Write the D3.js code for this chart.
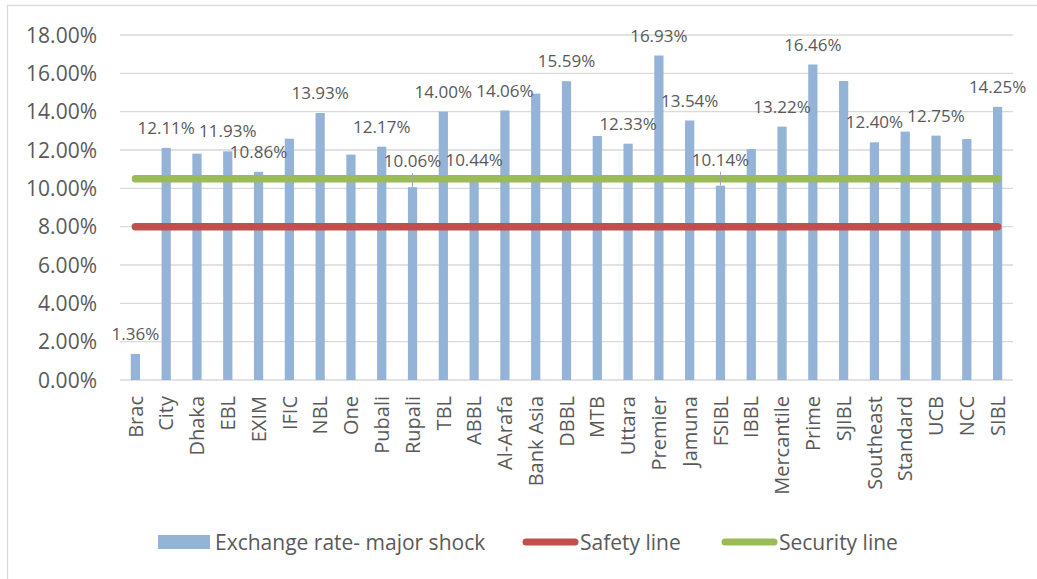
<!DOCTYPE html>
<html>
<head>
<meta charset="utf-8">
<script src="https://cdnjs.cloudflare.com/ajax/libs/d3/7.8.5/d3.min.js"></script>
<style>
    body { margin: 0; background: #fff; }
    text { font-family: "Open Sans", sans-serif; fill: #595959; }
</style>
</head>
<body>
<div class="chart"></div>
<script>
// banks along the x axis
var banks = ["Brac", "City", "Dhaka", "EBL", "EXIM", "IFIC", "NBL", "One", "Pubali", "Rupali",
    "TBL", "ABBL", "Al-Arafa", "Bank Asia", "DBBL", "MTB", "Uttara", "Premier", "Jamuna", "FSIBL",
    "IBBL", "Mercantile", "Prime", "SJIBL", "Southeast", "Standard", "UCB", "NCC", "SIBL"];

// exchange rate - major shock (percent)
var shock = [1.36, 12.11, 11.81, 11.93, 10.86, 12.59, 13.93, 11.76, 12.17, 10.06,
    14.00, 10.44, 14.06, 14.94, 15.59, 12.73, 12.33, 16.93, 13.54, 10.14,
    12.05, 13.22, 16.46, 15.60, 12.40, 12.96, 12.75, 12.57, 14.25];

// banks that carry a data label
var labelled = ["Brac", "City", "EBL", "EXIM", "NBL", "Pubali", "Rupali", "TBL", "ABBL", "Al-Arafa",
    "DBBL", "Uttara", "Premier", "Jamuna", "FSIBL", "Mercantile", "Prime", "Southeast", "UCB", "SIBL"];
// labels pushed up with a leader line
var leader = ["Rupali", "FSIBL"];

var safetyLine = 8;
var securityLine = 10.5;
var yTicks = [0, 2, 4, 6, 8, 10, 12, 14, 16, 18];

var series = [
    {name: "Exchange rate- major shock", type: "bar", color: "#95B3D7"},
    {name: "Safety line", type: "line", color: "#C0504D"},
    {name: "Security line", type: "line", color: "#9BBB59"}
];

var W = 1037, H = 579;
var margin = {top: 35, right: 24, bottom: 199, left: 120};
var width = W - margin.left - margin.right;
var height = H - margin.top - margin.bottom;

var svg = d3.select(".chart").append("svg")
    .attr("width", W)
    .attr("height", H);

// chart frame
svg.append("rect")
    .attr("x", 7.5).attr("y", 5.5)
    .attr("width", W + 20).attr("height", H + 20)
    .attr("fill", "none")
    .attr("stroke", "#D9D9D9")
    .attr("stroke-width", 1.3);

var g = svg.append("g").attr("transform", `translate(${margin.left},${margin.top})`);

var x = d3.scaleBand().domain(banks).range([0, width]).paddingInner(0.7).paddingOuter(0.35);
var y = d3.scaleLinear().domain([0, 18]).range([height, 0]);
var cx = d => x(d) + x.bandwidth() / 2;

// gridlines
g.append("g")
    .selectAll("line")
    .data(yTicks)
    .enter()
    .append("line")
    .attr("x1", 0).attr("x2", width)
    .attr("y1", d => y(d)).attr("y2", d => y(d))
    .attr("stroke", "#D9D9D9")
    .attr("stroke-width", 1.3);

// y tick labels
g.append("g")
    .selectAll("text")
    .data(yTicks)
    .enter()
    .append("text")
    .attr("x", -23)
    .attr("y", d => y(d))
    .attr("dy", "0.36em")
    .attr("text-anchor", "end")
    .style("font-size", "21px")
    .text(d => d3.format(".2f")(d) + "%");

// x labels, rotated
g.append("g")
    .selectAll("text")
    .data(banks)
    .enter()
    .append("text")
    .attr("transform", d => `translate(${cx(d)},${height + 16}) rotate(-90)`)
    .attr("dy", "0.36em")
    .attr("text-anchor", "end")
    .style("font-size", "20px")
    .text(d => d);

var data = banks.map((b, i) => ({name: b, value: shock[i]}));

// bars
g.append("g")
    .selectAll("rect")
    .data(data)
    .enter()
    .append("rect")
    .attr("x", d => x(d.name))
    .attr("y", d => y(d.value))
    .attr("width", x.bandwidth())
    .attr("height", d => height - y(d.value))
    .attr("fill", series[0].color);

// safety and security lines
[safetyLine, securityLine].forEach(function(v, i) {
    g.append("line")
        .attr("x1", cx(banks[0]))
        .attr("x2", cx(banks[banks.length - 1]))
        .attr("y1", y(v)).attr("y2", y(v))
        .attr("stroke", series[i + 1].color)
        .attr("stroke-width", 7.5)
        .attr("stroke-linecap", "round");
});

// data labels
var labels = data.filter(d => labelled.includes(d.name));
var labelY = d => y(d.value) - (leader.includes(d.name) ? 26 : 20);

g.append("g")
    .selectAll("line")
    .data(labels.filter(d => leader.includes(d.name)))
    .enter()
    .append("line")
    .attr("x1", d => cx(d.name)).attr("x2", d => cx(d.name))
    .attr("y1", d => labelY(d) + 12).attr("y2", d => y(d.value))
    .attr("stroke", "#A6A6A6")
    .attr("stroke-width", 1);

g.append("g")
    .selectAll("text")
    .data(labels)
    .enter()
    .append("text")
    .attr("x", d => cx(d.name))
    .attr("y", labelY)
    .attr("dy", "0.36em")
    .attr("text-anchor", "middle")
    .style("font-size", "17px")
    .text(d => d3.format(".2f")(d.value) + "%");

// legend
var legendPos = [158, 523, 722];
var legend = svg.append("g").attr("transform", "translate(0,542)");
series.forEach(function(s, i) {
    var lx = legendPos[i];
    if (s.type === "bar") {
        legend.append("rect")
            .attr("x", lx).attr("y", -7)
            .attr("width", 52).attr("height", 14)
            .attr("fill", s.color);
    } else {
        legend.append("line")
            .attr("x1", lx + 3).attr("x2", lx + 52)
            .attr("y1", 0).attr("y2", 0)
            .attr("stroke", s.color)
            .attr("stroke-width", 7)
            .attr("stroke-linecap", "round");
    }
    legend.append("text")
        .attr("x", lx + 57)
        .attr("y", 0)
        .attr("dy", "0.36em")
        .style("font-size", "21px")
        .text(s.name);
});
</script>
</body>
</html>
